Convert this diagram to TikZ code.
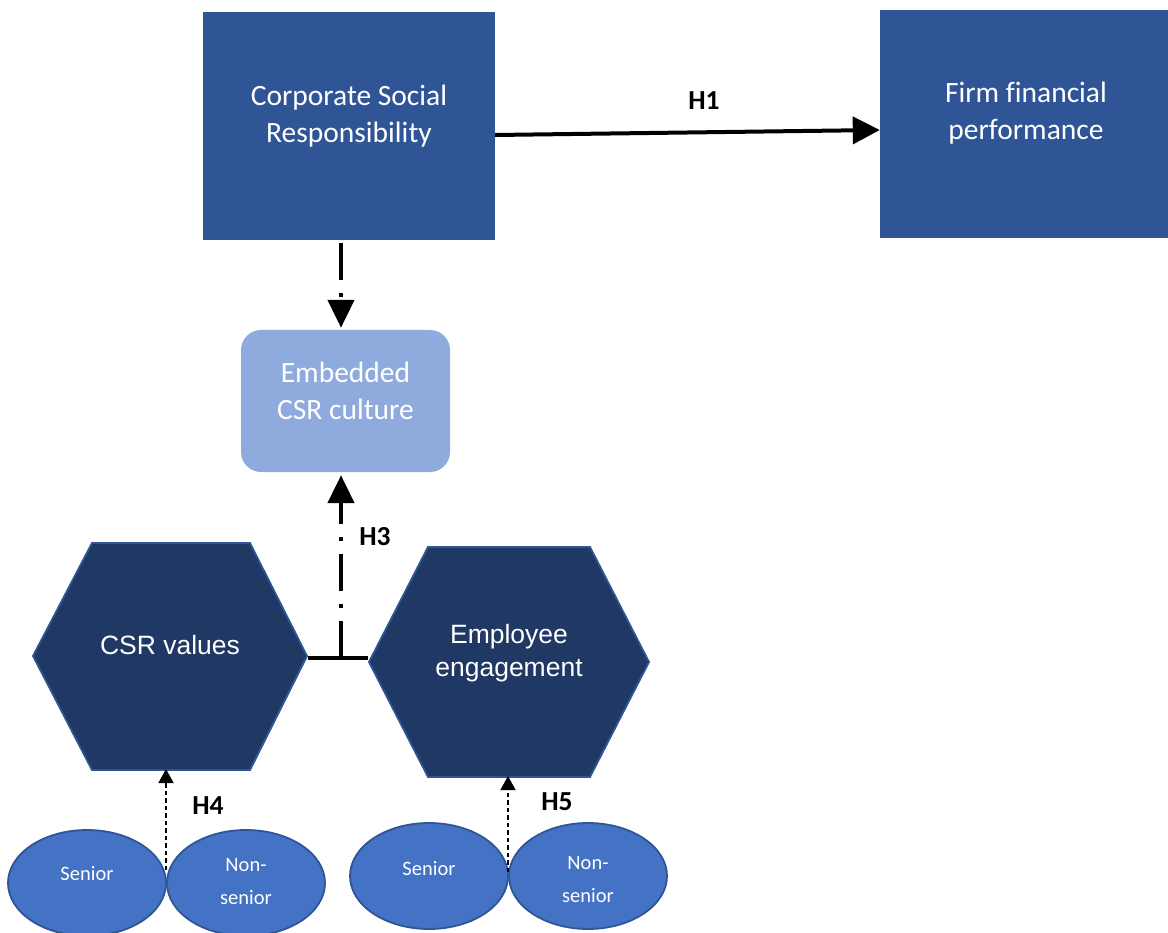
\documentclass[tikz,border=0pt]{standalone}
\usepackage{fontspec}
\setmainfont{Carlito}[Ligatures=NoCommon]
\newfontfamily\arialfont{Liberation Sans}
\usetikzlibrary{arrows.meta,shapes.geometric}

\definecolor{boxblue}{HTML}{2F5597}
\definecolor{lightblue}{HTML}{8FAADC}
\definecolor{hexblue}{HTML}{203864}
\definecolor{ovalblue}{HTML}{4472C4}

\tikzset{
  bluebox/.style={rectangle, fill=boxblue, draw=none, inner sep=0pt},
  softbox/.style={rectangle, rounded corners=20pt, fill=lightblue, draw=none, inner sep=0pt},
  hexagonshape/.style={fill=hexblue, draw=boxblue, line width=1.8pt, line join=miter},
  oval/.style={ellipse, fill=ovalblue, draw=boxblue, line width=1.8pt, inner sep=0pt,
    minimum width=158pt, minimum height=106pt},
  boxtext/.style={text=white, align=center, font=\fontsize{29.5}{37.5}\selectfont, inner sep=0pt},
  hextext/.style={text=white, align=center, font=\arialfont\fontsize{26.5}{32.5}\selectfont, inner sep=0pt},
  ovaltext/.style={text=white, align=center, font=\fontsize{20.5}{33}\selectfont, inner sep=0pt},
  hyp/.style={font=\bfseries\fontsize{27.5}{30}\selectfont, inner sep=0pt},
  mainarrow/.style={line width=4pt, -{Triangle[length=27pt,width=27pt]}},
  dashdotarrow/.style={line width=4.5pt, dash pattern=on 37pt off 13pt on 4pt off 13pt,
    -{Triangle[length=28pt,width=26pt]}},
  minorarrow/.style={line width=1.4pt, dash pattern=on 4.5pt off 3pt,
    -{Triangle[length=14pt,width=15pt]}},
}

\begin{document}
\begin{tikzpicture}[x=1pt,y=-1pt]
\useasboundingbox (0,0) rectangle (1168,933);

% top row: CSR and financial performance
\node[bluebox, minimum width=292pt, minimum height=228pt] (csr) at (349,126) {};
\node[boxtext] (csrtext) at (349,116) {Corporate Social\\Responsibility};
\node[bluebox, minimum width=288pt, minimum height=228pt] (ffp) at (1024,124) {};
\node[boxtext] (ffptext) at (1026,113) {Firm financial\\performance};

% embedded culture
\node[softbox, minimum width=209pt, minimum height=142pt] (emb) at (345.5,401) {};
\node[boxtext] (embtext) at (345.5,391) {Embedded\\CSR culture};

% hexagons
\draw[hexagonshape] (33,656) -- (92,543) -- (250,543) -- (307,656) -- (250,770) -- (92,770) -- cycle;
\node[hextext] (cv) at (170,645) {CSR values};
\draw[hexagonshape] (369,662) -- (428,547) -- (590,547) -- (649,662) -- (590,777) -- (428,777) -- cycle;
\node[hextext] (ee) at (509,653) {Employee\\engagement};

% ovals
\node[oval] (s1) at (87,883) {};
\node[ovaltext] (s1text) at (87,874) {Senior};
\node[oval] (n1) at (246,883) {};
\node[ovaltext] (n1text) at (246,881) {Non-\\senior};
\node[oval] (s2) at (429,876) {};
\node[ovaltext] (s2text) at (429,869) {Senior};
\node[oval] (n2) at (588,876) {};
\node[ovaltext] (n2text) at (588,879) {Non-\\senior};

% connection points
\coordinate (cvright) at (308,658);
\coordinate (eeleft) at (368,658);
\coordinate (join) at (341,658);
\coordinate (cvbottom) at (166,769);
\coordinate (eebottom) at (508,776);
\coordinate (touch1) at (166,870);
\coordinate (touch2) at (508,872);

% connectors
\draw[mainarrow] ([yshift=-9pt]csr.east) -- ([yshift=-6pt]ffp.west);
\draw[dashdotarrow] ([xshift=-8pt,yshift=-3pt]csr.south) -- ([xshift=-4.5pt,yshift=2pt]emb.north);
\draw[line width=4pt] (cvright) -- (eeleft);
\draw[dashdotarrow] (join) -- ([xshift=-4.5pt,yshift=-3pt]emb.south);
\draw[minorarrow] (touch1) -- (cvbottom);
\draw[minorarrow] (touch2) -- (eebottom);

% hypothesis labels
\node[hyp] (h1) at (704,101) {H1};
\node[hyp] (h3) at (375,537) {H3};
\node[hyp] (h4) at (208,806) {H4};
\node[hyp] (h5) at (557,802) {H5};
\end{tikzpicture}
\end{document}
